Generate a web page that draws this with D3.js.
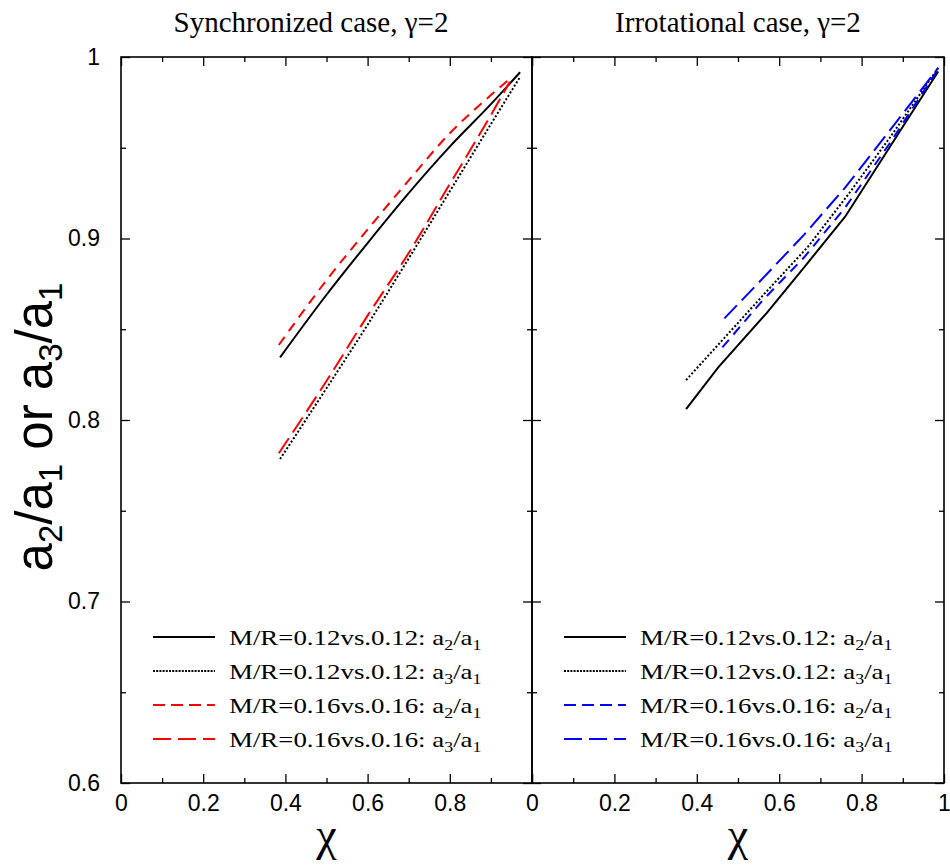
<!DOCTYPE html>
<html>
<head>
<meta charset="utf-8">
<script src="https://cdn.jsdelivr.net/npm/d3@7"></script>
<style>
  html, body { margin: 0; padding: 0; background: #fff; }
  svg { display: block; }
</style>
</head>
<body>
<svg id="chart" width="950" height="865"></svg>
<script>
// ---- data: axis ratio vs. chi ----
// Synchronized case
const syncChiA2_012 = [0.387, 0.5, 0.6, 0.7, 0.8, 0.9, 0.971];
const syncValA2_012 = [0.8345, 0.869, 0.8975, 0.925, 0.9506, 0.974, 0.9916];
const syncChiA3_012 = [0.387, 0.5, 0.6, 0.7, 0.8, 0.9, 0.971];
const syncValA3_012 = [0.7785, 0.8175, 0.8525, 0.889, 0.926, 0.963, 0.989];
const syncChiA2_016 = [0.384, 0.5, 0.6, 0.7, 0.8, 0.9, 0.946];
const syncValA2_016 = [0.8413, 0.877, 0.905, 0.932, 0.958, 0.979, 0.988];
const syncChiA3_016 = [0.384, 0.5, 0.6, 0.7, 0.8, 0.9, 0.946];
const syncValA3_016 = [0.7817, 0.8215, 0.8575, 0.892, 0.93, 0.968, 0.9864];
// Irrotational case
const irrChiA2_012 = [0.374, 0.452, 0.57, 0.66, 0.76, 0.87, 0.986];
const irrValA2_012 = [0.806, 0.829, 0.859, 0.884, 0.912, 0.951, 0.992];
const irrChiA3_012 = [0.374, 0.47, 0.57, 0.67, 0.77, 0.87, 0.989];
const irrValA3_012 = [0.822, 0.846, 0.871, 0.8955, 0.925, 0.956, 0.995];
const irrChiA2_016 = [0.462, 0.56, 0.66, 0.76, 0.87, 0.985];
const irrValA2_016 = [0.84, 0.866, 0.8895, 0.917, 0.953, 0.993];
const irrChiA3_016 = [0.467, 0.56, 0.66, 0.76, 0.87, 0.986];
const irrValA3_016 = [0.856, 0.878, 0.902, 0.928, 0.96, 0.994];

// ---- labels ----
const panelTitles = ["Synchronized case, \u03b3=2", "Irrotational case, \u03b3=2"];
const legendModels = ["M/R=0.12vs.0.12: ", "M/R=0.12vs.0.12: ", "M/R=0.16vs.0.16: ", "M/R=0.16vs.0.16: "];
const legendNumerators = ["2", "3", "2", "3"];
const legendDenominators = ["1", "1", "1", "1"];
const xTickValues = [0, 0.2, 0.4, 0.6, 0.8, 1];
const xTickLabelsLeft = ["0", "0.2", "0.4", "0.6", "0.8", ""];
const xTickLabelsRight = ["0", "0.2", "0.4", "0.6", "0.8", "1"];
const xMinorValues = [0.1, 0.3, 0.5, 0.7, 0.9];
const yTickValues = [0.6, 0.7, 0.8, 0.9, 1];
const yTickLabels = ["0.6", "0.7", "0.8", "0.9", "1"];
const yMinorValues = [0.65, 0.75, 0.85, 0.95];
const xAxisTitle = "\u03c7";

// ---- layout ----
const svg = d3.select("#chart");
const frameTop = 57, frameBottom = 783;
const panelBounds = [[121, 532], [532, 944]];
const y = d3.scaleLinear().domain([0.6, 1]).range([frameBottom, frameTop]);

const styles = [
  { color: "#000", dash: null },
  { color: "#000", dash: "2,2" },
  { color: null, dash: "10,7" },
  { color: null, dash: "18,7" }
];
const accent = ["#ff0000", "#0000ff"];

const panelSeries = [
  [[syncChiA2_012, syncValA2_012], [syncChiA3_012, syncValA3_012], [syncChiA2_016, syncValA2_016], [syncChiA3_016, syncValA3_016]],
  [[irrChiA2_012, irrValA2_012], [irrChiA3_012, irrValA3_012], [irrChiA2_016, irrValA2_016], [irrChiA3_016, irrValA3_016]]
];

const serif = "'Liberation Serif', 'Times New Roman', serif";
const sans = "'Liberation Sans', Arial, Helvetica, sans-serif";

panelBounds.forEach((b, p) => {
  const x = d3.scaleLinear().domain([0, 1]).range(b);
  const g = svg.append("g");

  // curves
  const line = d3.line()
    .x(d => x(d[0])).y(d => y(d[1]))
    .curve(p === 0 ? d3.curveMonotoneX : d3.curveLinear);
  panelSeries[p].forEach((s, i) => {
    const pts = s[0].map((c, k) => [c, s[1][k]]);
    g.append("path")
      .attr("d", line(pts))
      .attr("fill", "none")
      .attr("stroke", styles[i].color || accent[p])
      .attr("stroke-width", 2)
      .attr("stroke-dasharray", styles[i].dash);
  });

  // ticks (inward) on all four sides
  const labelsX = p === 0 ? xTickLabelsLeft : xTickLabelsRight;
  g.append("g").attr("transform", `translate(0,${frameBottom})`)
    .call(d3.axisBottom(x).tickValues(xTickValues).tickSize(-9).tickPadding(12)
      .tickFormat((d, i) => labelsX[i]));
  g.append("g").attr("transform", `translate(0,${frameBottom})`)
    .call(d3.axisBottom(x).tickValues(xMinorValues).tickSize(-5).tickFormat(""));
  g.append("g").attr("transform", `translate(0,${frameTop})`)
    .call(d3.axisTop(x).tickValues(xTickValues).tickSize(-9).tickFormat(""));
  g.append("g").attr("transform", `translate(0,${frameTop})`)
    .call(d3.axisTop(x).tickValues(xMinorValues).tickSize(-5).tickFormat(""));
  g.append("g").attr("transform", `translate(${b[0]},0)`)
    .call(d3.axisLeft(y).tickValues(yTickValues).tickSize(-9).tickPadding(21)
      .tickFormat((d, i) => p === 0 ? yTickLabels[i] : ""));
  g.append("g").attr("transform", `translate(${b[0]},0)`)
    .call(d3.axisLeft(y).tickValues(yMinorValues).tickSize(-5).tickFormat(""));
  g.append("g").attr("transform", `translate(${b[1]},0)`)
    .call(d3.axisRight(y).tickValues(yTickValues).tickSize(-9).tickFormat(""));
  g.append("g").attr("transform", `translate(${b[1]},0)`)
    .call(d3.axisRight(y).tickValues(yMinorValues).tickSize(-5).tickFormat(""));

  g.selectAll(".domain").remove();
  g.selectAll(".tick line").attr("stroke", "#000").attr("stroke-width", 1.3);
  g.selectAll(".tick text").attr("font-family", sans).attr("font-size", 23).attr("fill", "#000");

  // frame
  g.append("rect")
    .attr("x", b[0]).attr("y", frameTop)
    .attr("width", b[1] - b[0]).attr("height", frameBottom - frameTop)
    .attr("fill", "none").attr("stroke", "#000").attr("stroke-width", 1.6);

  // panel title
  g.append("text")
    .attr("x", p === 0 ? 311 : 738).attr("y", 32)
    .attr("text-anchor", "middle")
    .attr("font-family", serif).attr("font-size", 29)
    .text(panelTitles[p]);

  // x axis title
  g.append("text")
    .attr("x", (b[0] + b[1]) / 2).attr("y", 850)
    .attr("text-anchor", "middle")
    .attr("font-family", serif).attr("font-size", 46)
    .text(xAxisTitle);

  // legend
  const rowY = [637, 671, 705, 739];
  const lx0 = b[0] + 32, lx1 = b[0] + 94, tx = b[0] + 108;
  rowY.forEach((ry, i) => {
    g.append("line")
      .attr("x1", lx0).attr("x2", lx1).attr("y1", ry).attr("y2", ry)
      .attr("stroke", styles[i].color || accent[p])
      .attr("stroke-width", 2)
      .attr("stroke-dasharray", i === 1 ? "2,1.2" : (i === 2 ? "12,6" : styles[i].dash));
    const t = g.append("text")
      .attr("transform", `translate(${tx},${ry + 8}) scale(1.28,1)`)
      .attr("font-family", serif).attr("font-size", 21);
    t.append("tspan").text(legendModels[i] + "a");
    t.append("tspan").attr("dy", 5).attr("font-size", 14).text(legendNumerators[i]);
    t.append("tspan").attr("dy", -5).text("/a");
    t.append("tspan").attr("dy", 5).attr("font-size", 14).text(legendDenominators[i]);
  });
});

// y axis title (rotated)
const yTitle = svg.append("text")
  .attr("transform", "translate(52,427) rotate(-90)")
  .attr("text-anchor", "middle")
  .attr("font-family", sans).attr("font-size", 51);
yTitle.append("tspan").text("a");
yTitle.append("tspan").attr("dy", 10).attr("font-size", 33).text("2");
yTitle.append("tspan").attr("dy", -10).text("/a");
yTitle.append("tspan").attr("dy", 10).attr("font-size", 33).text("1");
yTitle.append("tspan").attr("dy", -10).text(" or a");
yTitle.append("tspan").attr("dy", 10).attr("font-size", 33).text("3");
yTitle.append("tspan").attr("dy", -10).text("/a");
yTitle.append("tspan").attr("dy", 10).attr("font-size", 33).text("1");
</script>
</body>
</html>
